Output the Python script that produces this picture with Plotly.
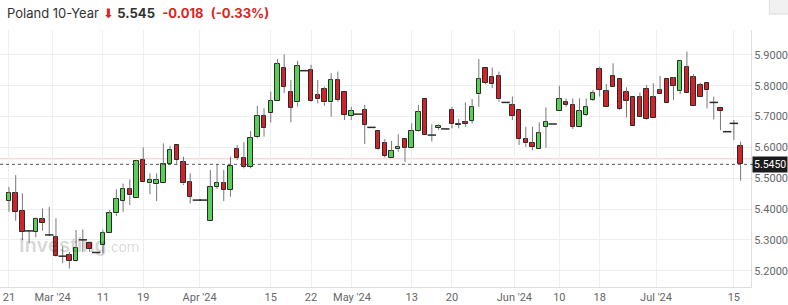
import plotly.graph_objects as go

# ---------------- data ----------------
opens = [5.427, 5.451, 5.394, 5.329, 5.326, 5.368, 5.316, 5.310, 5.247, 5.251,
         5.231, 5.300, 5.289, 5.259, 5.283, 5.321, 5.386, 5.426, 5.465, 5.435,
         5.559, 5.483, 5.480, 5.483, 5.546, 5.608, 5.552, 5.487, 5.429, 5.429,
         5.362, 5.472, 5.483, 5.462, 5.594, 5.565, 5.537, 5.633, 5.703, 5.711,
         5.751, 5.859, 5.779, 5.746, 5.849, 5.851, 5.770, 5.789, 5.746, 5.819,
         5.781, 5.702, 5.708, 5.721, 5.665, 5.654, 5.613, 5.565, 5.594, 5.626,
         5.599, 5.654, 5.757, 5.640, 5.663, 5.660, 5.721, 5.676, 5.683, 5.686,
         5.772, 5.857, 5.830, 5.832, 5.746, 5.738, 5.721, 5.626, 5.615, 5.594,
         5.667, 5.676, 5.718, 5.746, 5.738, 5.667, 5.705, 5.754, 5.854, 5.784,
         5.833, 5.822, 5.779, 5.763, 5.763, 5.790, 5.763, 5.786, 5.821, 5.824,
         5.784, 5.860, 5.828, 5.803, 5.808, 5.746, 5.729, 5.651, 5.678, 5.605]
highs = [5.472, 5.510, 5.451, 5.332, 5.373, 5.402, 5.407, 5.370, 5.278, 5.261,
         5.332, 5.334, 5.291, 5.259, 5.332, 5.397, 5.464, 5.483, 5.496, 5.559,
         5.600, 5.516, 5.516, 5.613, 5.605, 5.608, 5.570, 5.516, 5.429, 5.429,
         5.527, 5.546, 5.527, 5.570, 5.608, 5.617, 5.653, 5.735, 5.727, 5.781,
         5.887, 5.902, 5.819, 5.881, 5.849, 5.868, 5.819, 5.797, 5.841, 5.846,
         5.781, 5.732, 5.708, 5.738, 5.665, 5.654, 5.627, 5.621, 5.643, 5.626,
         5.678, 5.738, 5.757, 5.675, 5.675, 5.660, 5.732, 5.692, 5.746, 5.757,
         5.887, 5.857, 5.859, 5.846, 5.746, 5.765, 5.721, 5.667, 5.667, 5.681,
         5.730, 5.676, 5.800, 5.759, 5.759, 5.759, 5.759, 5.786, 5.862, 5.806,
         5.873, 5.822, 5.795, 5.763, 5.778, 5.803, 5.808, 5.832, 5.821, 5.828,
         5.884, 5.911, 5.838, 5.810, 5.808, 5.765, 5.729, 5.651, 5.689, 5.619]
lows = [5.391, 5.362, 5.299, 5.290, 5.308, 5.330, 5.312, 5.245, 5.224, 5.207,
        5.229, 5.261, 5.261, 5.259, 5.256, 5.321, 5.377, 5.391, 5.413, 5.435,
        5.489, 5.448, 5.426, 5.483, 5.543, 5.543, 5.478, 5.418, 5.429, 5.429,
        5.362, 5.465, 5.426, 5.440, 5.559, 5.532, 5.532, 5.630, 5.635, 5.681,
        5.751, 5.776, 5.681, 5.732, 5.849, 5.748, 5.743, 5.735, 5.700, 5.748,
        5.689, 5.689, 5.708, 5.611, 5.665, 5.591, 5.567, 5.565, 5.586, 5.552,
        5.599, 5.651, 5.640, 5.619, 5.657, 5.660, 5.662, 5.662, 5.667, 5.678,
        5.732, 5.805, 5.792, 5.748, 5.746, 5.689, 5.608, 5.602, 5.591, 5.594,
        5.599, 5.676, 5.718, 5.732, 5.660, 5.667, 5.702, 5.751, 5.765, 5.732,
        5.795, 5.721, 5.698, 5.669, 5.698, 5.689, 5.694, 5.772, 5.743, 5.754,
        5.773, 5.776, 5.734, 5.763, 5.727, 5.691, 5.656, 5.651, 5.624, 5.492]
closes = [5.451, 5.391, 5.326, 5.329, 5.367, 5.354, 5.316, 5.247, 5.247, 5.231,
          5.272, 5.300, 5.270, 5.259, 5.321, 5.386, 5.432, 5.465, 5.444, 5.557,
          5.489, 5.494, 5.494, 5.546, 5.592, 5.559, 5.483, 5.440, 5.429, 5.429,
          5.472, 5.485, 5.462, 5.541, 5.565, 5.537, 5.631, 5.703, 5.662, 5.751,
          5.870, 5.797, 5.729, 5.864, 5.849, 5.751, 5.756, 5.746, 5.819, 5.754,
          5.705, 5.718, 5.708, 5.673, 5.665, 5.594, 5.572, 5.588, 5.602, 5.599,
          5.654, 5.714, 5.640, 5.640, 5.670, 5.660, 5.675, 5.674, 5.677, 5.732,
          5.821, 5.810, 5.805, 5.756, 5.746, 5.703, 5.627, 5.613, 5.602, 5.646,
          5.683, 5.676, 5.757, 5.738, 5.667, 5.718, 5.730, 5.776, 5.786, 5.732,
          5.795, 5.724, 5.752, 5.669, 5.698, 5.691, 5.694, 5.772, 5.743, 5.799,
          5.881, 5.776, 5.734, 5.763, 5.786, 5.746, 5.718, 5.651, 5.678, 5.545]

tick_pos = [0, 6.5, 14, 20, 28.4, 39, 45, 51.1, 60, 66, 75.3, 82, 88, 96.4, 108]
tick_text = ["21", "Mar '24", "11", "19", "Apr '24", "15", "22", "May '24",
             "13", "20", "Jun '24", "10", "18", "Jul '24", "15"]
y_ticks = [5.2, 5.3, 5.4, 5.5, 5.6, 5.7, 5.8, 5.9]

last_price = 5.545
prev_close = 5.563
title_name = "Poland 10-Year"
title_change = "-0.018 (-0.33%)"

# ---------------- styling ----------------
GREEN = "#58d058"
RED = "#d0232a"
OUTLINE = "#2a2a2a"
WICK = "#777777"

n = len(opens)
idx = list(range(n))

up_x, up_base, up_h = [], [], []
dn_x, dn_base, dn_h = [], [], []
flat_x, flat_y = [], []
wx, wy = [], []
for i, o, h, l, c in zip(idx, opens, highs, lows, closes):
    top, bot = max(o, c), min(o, c)
    if c > o:
        up_x.append(i); up_base.append(o); up_h.append(c - o)
    elif c < o:
        dn_x.append(i); dn_base.append(c); dn_h.append(o - c)
    else:
        flat_x.append(i); flat_y.append(c)
    if h > top:
        wx += [i, i, None]; wy += [h, top, None]
    if l < bot:
        wx += [i, i, None]; wy += [bot, l, None]

fig = go.Figure()
fig.add_trace(go.Scatter(x=wx, y=wy, mode="lines",
                         line=dict(color=WICK, width=1), hoverinfo="skip",
                         showlegend=False))
fig.add_trace(go.Bar(x=up_x, y=up_h, base=up_base, width=0.66,
                     marker=dict(color=GREEN, line=dict(color=OUTLINE, width=1)),
                     showlegend=False))
fig.add_trace(go.Bar(x=dn_x, y=dn_h, base=dn_base, width=0.66,
                     marker=dict(color=RED, line=dict(color=OUTLINE, width=1)),
                     showlegend=False))
fig.add_trace(go.Scatter(x=flat_x, y=flat_y, mode="markers",
                         marker=dict(symbol="line-ew", size=6,
                                     line=dict(color=OUTLINE, width=1.5)),
                         showlegend=False))

# previous close (pink) and last price (dashed)
fig.add_shape(type="line", xref="paper", x0=0, x1=1, yref="y",
              y0=prev_close, y1=prev_close,
              line=dict(color="#f3c9c9", width=1), layer="below")
fig.add_shape(type="line", xref="paper", x0=0, x1=1.004, yref="y",
              y0=last_price, y1=last_price,
              line=dict(color="#555555", width=1, dash="3px,3px"))

# price box on the right axis
fig.add_annotation(xref="paper", x=1.0, xanchor="left", xshift=1,
                   yref="y", y=last_price, yanchor="middle",
                   text=f"{last_price:.4f}", showarrow=False,
                   font=dict(family="Roboto", size=10.5, color="white"),
                   bgcolor="#1b1b1b", borderpad=1)

# header
fig.add_annotation(xref="paper", yref="paper", x=0.006, y=1.066,
                   xanchor="left", yanchor="middle", showarrow=False,
                   text=(f"{title_name} <span style='color:#d9251d'>⬇</span> "
                         f"<b>{last_price:.3f}</b>  "
                         f"<span style='color:#d9251d'><b>{title_change.split(' ')[0]}</b>  "
                         f"<b>{title_change.split(' ')[1]}</b></span>"),
                   font=dict(family="Inter", size=13, color="#333333"))

# watermark
fig.add_annotation(xref="paper", yref="paper", x=0.022, y=0.163,
                   xanchor="left", yanchor="middle", showarrow=False,
                   text="<b>Investing</b><span style='font-size:15px'>.com</span>",
                   font=dict(family="Arial", size=20, color="rgba(0,0,0,0.16)"))

# small box at top right
fig.add_shape(type="rect", xref="paper", yref="paper",
              x0=1.0245, x1=1.05, y0=1.062, y1=1.12,
              fillcolor="#f1f1f1", line=dict(color="#dddddd", width=1))

fig.update_layout(
    width=788, height=305,
    margin=dict(l=0, r=35, t=30, b=18),
    paper_bgcolor="white", plot_bgcolor="white",
    bargap=0, showlegend=False,
    xaxis=dict(range=[-1.337, 110.55], tickmode="array", tickvals=tick_pos,
               ticktext=tick_text, showgrid=True, gridcolor="#eeeeee",
               gridwidth=1, zeroline=False, showline=True, linecolor="#dddddd",
               ticks="", tickfont=dict(family="Roboto", size=11, color="#666666"),
               fixedrange=True),
    yaxis=dict(range=[5.147, 5.981], side="right", tickmode="array",
               tickvals=y_ticks, ticktext=[f"{v:.4f}" for v in y_ticks],
               showgrid=True, gridcolor="#eeeeee", zeroline=False,
               showline=True, linecolor="#dddddd", ticks="",
               tickfont=dict(family="Roboto", size=11, color="#666666"),
               fixedrange=True),
)

fig.write_html("out.html")
